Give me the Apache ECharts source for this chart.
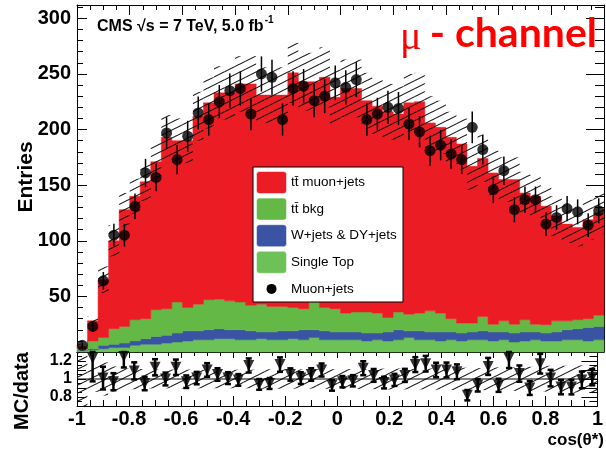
<!DOCTYPE html>
<html><head><meta charset="utf-8">
<script src="https://cdn.jsdelivr.net/npm/echarts@6/dist/echarts.min.js"></script>
<style>html,body{margin:0;padding:0;background:#fff}#c{width:606px;height:452px}</style>
</head><body><div id="c"></div>
<script>
// ---- data ----
const binLow = [-1,-0.96,-0.92,-0.88,-0.84,-0.8,-0.76,-0.72,-0.68,-0.64,-0.6,-0.56,-0.52,-0.48,-0.44,-0.4,-0.36,-0.32,-0.28,-0.24,-0.2,-0.16,-0.12,-0.08,-0.04,0,0.04,0.08,0.12,0.16,0.2,0.24,0.28,0.32,0.36,0.4,0.44,0.48,0.52,0.56,0.6,0.64,0.68,0.72,0.76,0.8,0.84,0.88,0.92,0.96];
const binWidth = 0.04;
const ttMuonJets = [2,18,52,79,105,111,123,133,154,145,150,169,177,185.5,187,196,199,188,190,190,211,204,198,207,190,202,201,190,186,185,178,190,190,169,167,163,161,141,142,136,127,130,114,115,106.5,94,87,83,89,92];
const ttBkg = [1.5,7,7,14,15,19,18,24,24,28,21,24,27,26.5,26,25,23,25,23,22,21,19,25,21,21,17,18,19,18,13,16,15,16,19,17,12,9,8,13,7,10,8,11,7,7.5,10,8,8,8,10];
const wDyJets = [0.5,1,3,3,4,4,5,7,7,8,9,8,9,9,8,9,8,6,7,8,7,9,7,8,7,7,7,7,6,8,9,6,8,7,8,7,7,7,8,8,7,8,8,7,7,8,9,10,12,12];
const singleTop = [1,2,3,4,4,6,7,7,8,9,10,11,11,12,12,11,11,12,11,11,12,11,13,11,11,11,11,10,11,10,11,13,11,11,10,11,10,11,11,10,11,9,10,11,10,10,11,11,10,11];
const muonJetsData = [6,23,64,105,105,131,161,157,197,173,194,215,209,225,235,237,214,250,247,209,237,239,226,230,242,238,245,209,214,220,219,205,198,181,186,178,173,202,182,146,163,128,137,137,115,121,129,126,114,127];
const mcOverData = [null,1.23,1.01,0.97,1.25,1.09,0.95,1.13,1.0,1.13,0.97,1.01,1.10,1.05,1.01,0.99,1.15,0.94,0.95,1.16,1.05,1.01,1.05,1.10,0.93,0.97,0.98,1.12,1.04,0.96,0.99,1.04,1.16,1.17,1.10,1.10,1.08,0.82,0.93,1.14,0.93,1.23,1.06,0.90,1.17,1.01,0.91,0.91,0.99,1.02];
const mcUnc = [2,4,12,14,15,16,17,18,20,20,20,22,23,24,24,25,25,25,25,25,27,26,26,27,25,26,26,25,25,25,25,26,26,24,24,23,23,21,21,20,20,20,19,19,18,18,17,17,18,19];
const legendNames = ['tt\u0304 muon+jets','tt\u0304 bkg','W+jets & DY+jets','Single Top','Muon+jets'];

// ---- styles ----
const C_RED = '#ec1c24', C_TTB = '#64b946', C_W = '#3a54a4', C_ST = '#6cc157';
const FONT = '"Liberation Sans", Arial, sans-serif';

const n = binLow.length;
const cum1 = singleTop.map(v => v);
const cum2 = cum1.map((v,i) => v + wDyJets[i]);
const cum3 = cum2.map((v,i) => v + ttBkg[i]);
const cum4 = cum3.map((v,i) => v + ttMuonJets[i]);
const zeros = binLow.map(() => 0);

function hatch() {
  const c = document.createElement('canvas'); c.width = 16; c.height = 8;
  const g = c.getContext('2d'); g.strokeStyle = '#111'; g.lineWidth = 1.1;
  g.beginPath();
  [[0,0],[-16,0],[16,0],[0,8],[0,-8]].forEach(([dx,dy]) => { g.moveTo(dx, 8+dy); g.lineTo(16+dx, dy); });
  g.stroke();
  return c;
}
const hatchImg = hatch();

function layer(lower, upper, color) {
  return { type:'custom', xAxisIndex:0, yAxisIndex:0, silent:true, data:[[0,0]],
    renderItem(params, api) {
      const pts = [];
      for (let i=0;i<n;i++){ pts.push(api.coord([binLow[i], upper[i]])); pts.push(api.coord([binLow[i]+binWidth, upper[i]])); }
      for (let i=n-1;i>=0;i--){ pts.push(api.coord([binLow[i]+binWidth, lower[i]])); pts.push(api.coord([binLow[i], lower[i]])); }
      return { type:'polygon', shape:{points:pts}, style:{fill:color, stroke:color, lineWidth:0.5} };
    } };
}

function xAx(gi, pos, labels, tl, ml) {
  return { type:'value', gridIndex:gi, position:pos, min:-1, max:1, interval:0.2,
    axisLine:{show:true, onZero:false, lineStyle:{color:'#000', width:1}},
    axisTick:{show:true, inside:true, length:tl, lineStyle:{color:'#000'}},
    minorTick:{show:true, splitNumber:4, length:ml, lineStyle:{color:'#000'}},
    splitLine:{show:false},
    axisLabel:{show:labels, margin:3, fontFamily:FONT, fontWeight:'bold', fontSize:20, color:'#000'} };
}

const hatchMain = binLow.map((x,i) => [x, x+binWidth, cum4[i]-mcUnc[i], cum4[i]+mcUnc[i]]);
const hatchRatio = binLow.map((x,i) => [x, x+binWidth, Math.max(0.7, 1-mcUnc[i]/cum4[i]), Math.min(1.3, 1+mcUnc[i]/cum4[i])]);
const dataPts = binLow.map((x,i) => [x+binWidth/2, muonJetsData[i]]);
const dataErr = binLow.map((x,i) => [x+binWidth/2, muonJetsData[i]-Math.sqrt(muonJetsData[i]), muonJetsData[i]+Math.sqrt(muonJetsData[i])]);
const ratioPts = [], ratioErr = [];
binLow.forEach((x,i) => { if (mcOverData[i] != null) {
  ratioPts.push([x+binWidth/2, mcOverData[i]]);
  const e = mcOverData[i]/Math.sqrt(muonJetsData[i]);
  ratioErr.push([x+binWidth/2, Math.max(0.7, mcOverData[i]-e), Math.min(1.3, mcOverData[i]+e)]);
}});

function rectSeries(data, xi, yi) {
  return { type:'custom', xAxisIndex:xi, yAxisIndex:yi, silent:true, data,
    renderItem(params, api) {
      const a = api.coord([api.value(0), api.value(3)]), b = api.coord([api.value(1), api.value(2)]);
      return { type:'rect', shape:{x:a[0], y:a[1], width:b[0]-a[0], height:b[1]-a[1]},
        style:{fill:{image:hatchImg, repeat:'repeat'}} };
    } };
}
function errSeries(data, xi, yi, cap, lw) {
  return { type:'custom', xAxisIndex:xi, yAxisIndex:yi, silent:true, data,
    renderItem(params, api) {
      const a = api.coord([api.value(0), api.value(1)]), b = api.coord([api.value(0), api.value(2)]);
      const ch = [{ type:'line', shape:{x1:a[0], y1:a[1], x2:b[0], y2:b[1]}, style:{stroke:'#000', lineWidth:lw} }];
      if (cap) {
        ch.push({ type:'line', shape:{x1:a[0]-cap, y1:a[1], x2:a[0]+cap, y2:a[1]}, style:{stroke:'#000', lineWidth:lw} });
        ch.push({ type:'line', shape:{x1:b[0]-cap, y1:b[1], x2:b[0]+cap, y2:b[1]}, style:{stroke:'#000', lineWidth:lw} });
      }
      return { type:'group', children: ch };
    } };
}

const m = document.createElement('canvas').getContext('2d');
m.font = 'bold 16px ' + FONT;
const cmsText = 'CMS \u221As = 7 TeV, 5.0 fb';
const cmsW = m.measureText(cmsText).width;

const legendX = 253, legendY = 167, rowH = 26.6;
const legendColors = [C_RED, C_TTB, C_W, C_ST];
const legendChildren = [{ type:'rect', z:100, shape:{x:legendX, y:legendY, width:150, height:135}, style:{fill:'#fff', stroke:'#000', lineWidth:1} }];
legendNames.forEach((nm, i) => {
  const cy = legendY + 15.5 + i*rowH;
  if (i < 4) legendChildren.push({ type:'rect', z:101, shape:{x:legendX+3.5, y:cy-11, width:30, height:22, r:3}, style:{fill:legendColors[i], stroke:'rgba(255,255,255,0.5)', lineWidth:1} });
  else legendChildren.push({ type:'circle', z:101, shape:{cx:legendX+18.5, cy:cy, r:5}, style:{fill:'#000'} });
  legendChildren.push({ type:'text', z:101, x:legendX+38, y:cy, style:{text:nm, font:'13.5px ' + FONT, fill:'#000', verticalAlign:'middle'} });
});

const option = {
  animation:false,
  grid:[{left:77, top:5, width:527, height:347}, {left:77, top:352, width:527, height:54}],
  xAxis:[ xAx(0,'bottom',false,10,6), xAx(0,'top',false,10,5), xAx(1,'bottom',true,10,6), xAx(1,'top',false,6,4) ],
  yAxis:[
    { type:'value', gridIndex:0, position:'left', min:0, max:312, interval:50,
      axisLine:{show:true, onZero:false, lineStyle:{color:'#000'}},
      axisTick:{show:true, inside:true, length:10, lineStyle:{color:'#000'}},
      minorTick:{show:true, splitNumber:5, length:6, lineStyle:{color:'#000'}},
      splitLine:{show:false},
      axisLabel:{showMinLabel:false, showMaxLabel:false, margin:6, fontFamily:FONT, fontWeight:'bold', fontSize:20, color:'#000'} },
    { type:'value', gridIndex:0, position:'right', min:0, max:312, interval:50,
      axisLine:{show:true, onZero:false, lineStyle:{color:'#000'}},
      axisTick:{show:true, inside:true, length:18, lineStyle:{color:'#000'}},
      minorTick:{show:true, splitNumber:5, length:9, lineStyle:{color:'#000'}},
      splitLine:{show:false}, axisLabel:{show:false} },
    { type:'value', gridIndex:1, position:'left', min:0.7, max:1.3, interval:0.1,
      axisLine:{show:true, onZero:false, lineStyle:{color:'#000'}},
      axisTick:{show:true, inside:true, length:9, lineStyle:{color:'#000'}},
      minorTick:{show:true, splitNumber:2, length:5, lineStyle:{color:'#000'}},
      splitLine:{show:false},
      axisLabel:{margin:5, fontFamily:FONT, fontWeight:'bold', fontSize:16, color:'#000',
        formatter: v => Math.abs(v-0.8)<1e-6 ? '0.8' : Math.abs(v-1)<1e-6 ? '1' : Math.abs(v-1.2)<1e-6 ? '1.2' : ''} },
    { type:'value', gridIndex:1, position:'right', min:0.7, max:1.3, interval:0.1,
      axisLine:{show:true, onZero:false, lineStyle:{color:'#000'}},
      axisTick:{show:true, inside:true, length:16, lineStyle:{color:'#000'}},
      minorTick:{show:true, splitNumber:2, length:8, lineStyle:{color:'#000'}},
      splitLine:{show:false}, axisLabel:{show:false} }
  ],
  series:[
    layer(zeros, cum1, C_ST),
    layer(cum1, cum2, C_W),
    layer(cum2, cum3, C_TTB),
    layer(cum3, cum4, C_RED),
    rectSeries(hatchMain, 0, 0),
    errSeries(dataErr, 0, 0, 0, 1.5),
    { type:'scatter', xAxisIndex:0, yAxisIndex:0, silent:true, data:dataPts, symbol:'circle', symbolSize:11, itemStyle:{color:'#000'} },
    rectSeries(hatchRatio, 2, 2),
    { type:'line', xAxisIndex:2, yAxisIndex:2, silent:true, data:[[-1,1],[1,1]], symbol:'none', lineStyle:{color:'#000', width:1} },
    errSeries(ratioErr, 2, 2, 3, 2.5),
    { type:'scatter', xAxisIndex:2, yAxisIndex:2, silent:true, data:ratioPts, symbol:'triangle', symbolRotate:180, symbolSize:11, itemStyle:{color:'#000'} }
  ],
  graphic:[
    { type:'text', z:100, x:26, y:177, rotation:Math.PI/2, style:{text:'Entries', font:'bold 21px ' + FONT, fill:'#000', align:'center', verticalAlign:'middle'} },
    { type:'text', z:100, x:22, y:391, rotation:Math.PI/2, style:{text:'MC/data', font:'bold 20px ' + FONT, fill:'#000', align:'center', verticalAlign:'middle'} },
    { type:'text', z:100, x:604, y:440, style:{text:'cos(\u03B8*)', font:'bold 17px ' + FONT, fill:'#000', align:'right', verticalAlign:'middle'} },
    { type:'text', z:100, x:97, y:27, style:{text:cmsText, font:'bold 16px ' + FONT, fill:'#000', verticalAlign:'middle'} },
    { type:'text', z:100, x:97+cmsW+1, y:20, style:{text:'-1', font:'bold 10px ' + FONT, fill:'#000', verticalAlign:'middle'} },
    { type:'text', z:100, x:400, y:38, style:{text:'\u03BC', font:'40px "Liberation Serif", serif', fill:'#ff0000', verticalAlign:'middle'} },
    { type:'text', z:100, x:597, y:34, style:{text:'- channel', font:'bold 41px Lato, sans-serif', fill:'#ff0000', align:'right', verticalAlign:'middle'} },
    { type:'group', z:100, children: legendChildren }
  ]
};
const chart = echarts.init(document.getElementById('c'));
chart.setOption(option);
</script></body></html>
